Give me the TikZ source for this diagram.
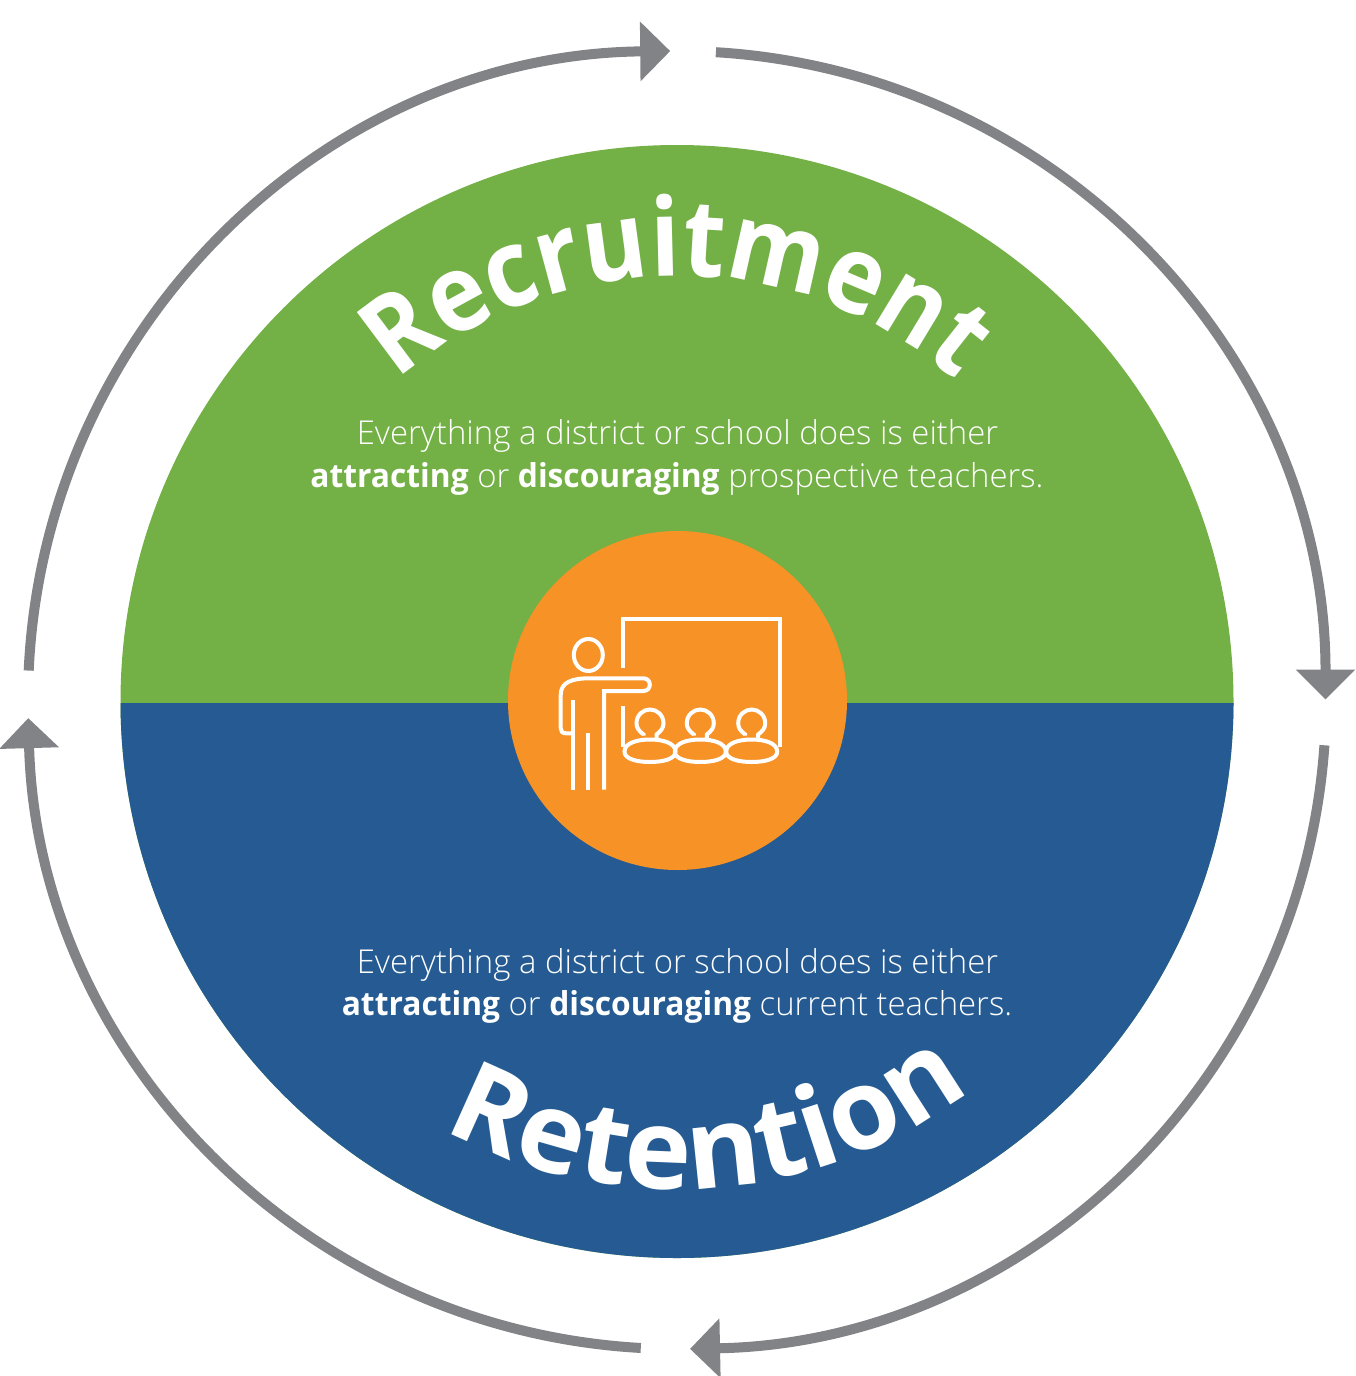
\documentclass[tikz,border=0pt]{standalone}
\usepackage{fontspec}
\setmainfont{Open Sans Light}[BoldFont={Open Sans Bold},BoldFeatures={FakeStretch=0.965}]
\newfontfamily\titlefont{Open Sans Bold}[FakeStretch=0.9]
\newfontfamily\titlefontb{Open Sans Bold}[FakeStretch=1.01]
\usetikzlibrary{arrows.meta,decorations.text,calc}
\definecolor{grn}{HTML}{73B045}
\definecolor{blu}{HTML}{255B92}
\definecolor{org}{HTML}{F79226}
\definecolor{gry}{HTML}{828386}
\tikzset{
  x=0.5pt,y=-0.5pt,
  ring/.style={draw=gry,line width=5pt,-{Triangle[length=15pt,width=29pt,fill=gry]}},
  body/.style={text=white,font=\fontsize{16.45}{20}\selectfont,inner sep=0pt,anchor=center},
  icon/.style={draw=white,line width=2pt,fill=none},
}
\newcommand{\student}[1]{%
  \draw[icon] (#1-6.5,735.5) -- (#1-6.5,734.5) .. controls (#1-11,731) and (#1-13.5,728) .. (#1-13.5,723.3)
     .. controls (#1-13.5,715) and (#1-7,709.5) .. (#1,709.5)
     .. controls (#1+7,709.5) and (#1+13.5,715) .. (#1+13.5,723.3)
     .. controls (#1+13.5,728) and (#1+11,731) .. (#1+6.5,734.5) -- (#1+6.5,738.5);
  \draw[icon] (#1-25.5,751.7) .. controls (#1-25.5,743) and (#1-13,739.5) .. (#1,739.5)
     .. controls (#1+13,739.5) and (#1+25.5,743) .. (#1+25.5,751.7)
     .. controls (#1+25.5,759) and (#1+13,762) .. (#1,762)
     .. controls (#1-13,762) and (#1-25.5,759) .. (#1-25.5,751.7) -- cycle;
}
\begin{document}
\begin{tikzpicture}
\useasboundingbox (0,0) rectangle (1355,1376);
\coordinate (c) at (677,701);
\coordinate (rc) at (677,700);
% halves
\fill[grn] (677,701.5) circle[radius=556.5];
\begin{scope}
  \clip (0,703) rectangle (1355,1376);
  \fill[blu] (677,701.5) circle[radius=556.5];
\end{scope}
\node[circle,fill=org,minimum size=169.5pt,inner sep=0pt] (hub) at (677.5,700.5) {};
% ring arrows
\coordinate (a1) at ($(rc)+(273.44:649)$);
\coordinate (a2) at ($(rc)+(4:649)$);
\coordinate (a3) at ($(rc)+(93.2:649)$);
\coordinate (a4) at ($(rc)+(182.6:649)$);
\draw[ring] (a1) arc[start angle=273.44,end angle=360,radius=648.5];
\draw[ring] (a2) arc[start angle=4,end angle=88.85,radius=649];
\draw[ring] (a3) arc[start angle=93.2,end angle=178.4,radius=649];
\draw[ring] (a4) arc[start angle=182.6,end angle=269.4,radius=649];
% curved titles
\path[decorate,decoration={text along path,text align=center,
   text={|\titlefont\fontsize{54}{60}\selectfont\color{white}|Recruitment}}]
   ($(c)+(190:425)$) arc[start angle=190,end angle=350,radius=425];
\path[decorate,decoration={text along path,text align=center,
   text={|\titlefontb\fontsize{56}{60}\selectfont\color{white}|Retention}}]
   ($(c)+(150:488)$) arc[start angle=150,end angle=21.5,radius=488];
% body texts
\node[body] (t1) at (677.5,435.5) {Everything a district or school does is either};
\node[body] (t2) at (677,478.5) {\textbf{attracting} or \textbf{discouraging} prospective teachers.};
\node[body] (t3) at (677.5,964.5) {Everything a district or school does is either};
\node[body] (t4) at (677,1006.5) {\textbf{attracting} or \textbf{discouraging} current teachers.};
% icon: board
\draw[icon,miter limit=4] (623.3,668) -- (623.3,619.3) -- (780,619.3) -- (780,746.7);
\draw[icon] (623.3,706) -- (623.3,746.7);
% icon: teacher
\draw[icon] (588.3,655) ellipse[x radius=14.5,y radius=16];
\draw[icon] (573,700) -- (573,789.5);
\draw[icon] (588.3,733.3) -- (588.3,789.5);
\draw[icon] (573,733.3) -- (566,733.3) .. controls (562,733.3) and (560.7,731) .. (560.7,728)
  -- (560.7,695) .. controls (560.7,682) and (572,678.3) .. (590,678.3)
  -- (643.3,678.3) .. controls (652,678.3) and (652,691) .. (643.3,691)
  -- (604,691) -- (604,789.5);
% icon: students
\student{650}
\student{700.3}
\student{751.7}
\end{tikzpicture}
\end{document}
